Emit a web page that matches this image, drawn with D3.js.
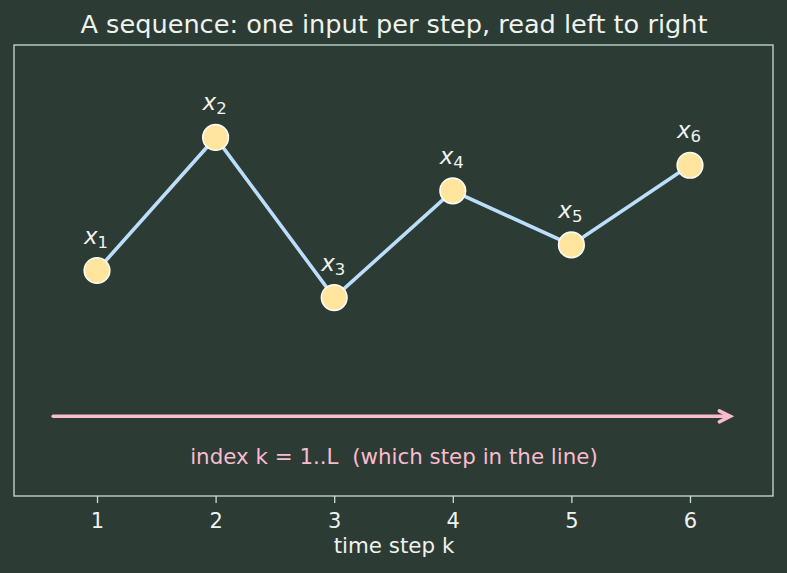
<!DOCTYPE html>
<html><head><meta charset="utf-8">
<script src="https://cdn.jsdelivr.net/npm/d3@7"></script>
<style>
html,body{margin:0;padding:0;background:#2c3b34;}
svg{display:block;font-family:"DejaVu Sans",sans-serif;}
</style></head>
<body><svg id="c" width="787" height="573"></svg>
<script>
const steps = [1, 2, 3, 4, 5, 6];
const values = [0.5, 1.385, 0.32, 1.03, 0.67, 1.2];
const labels = ["1", "2", "3", "4", "5", "6"];
const title = "A sequence: one input per step, read left to right";
const xLabel = "time step k";
const arrowText = "index k = 1..L  (which step in the line)";
const arrowRange = [0.63, 6.34];
const arrowY = -0.47;
const arrowTextY = -0.74;

const W = 787, H = 573;
const m = {l: 14, r: 14, t: 45, b: 77};
const svg = d3.select("#c");
svg.append("rect").attr("width", W).attr("height", H).attr("fill", "#2c3b34");

const x = d3.scaleLinear().domain([0.3, 6.7]).range([m.l, W - m.r]);
const y = d3.scaleLinear().domain([-1, 2]).range([H - m.b, m.t]);

// frame
svg.append("rect").attr("x", m.l).attr("y", m.t)
  .attr("width", W - m.l - m.r).attr("height", H - m.t - m.b)
  .attr("fill", "none").attr("stroke", "#c9dfd2").attr("stroke-width", 1.3);

// axis
const ax = svg.append("g").attr("transform", `translate(0,${H - m.b})`)
  .call(d3.axisBottom(x).tickValues(steps).tickFormat((d, i) => labels[i]).tickSize(7).tickPadding(10));
ax.attr("font-size", null).attr("font-family", null);
ax.select(".domain").remove();
ax.selectAll(".tick line").attr("stroke", "#c9dfd2").attr("stroke-width", 1.3);
ax.selectAll(".tick text").attr("fill", "#eef3ef").style("font-size", "21px").attr("dy", "0.71em");

svg.append("text").attr("x", 394).attr("y", 553)
  .attr("text-anchor", "middle").attr("fill", "#eef3ef").style("font-size", "21.4px").text(xLabel);

svg.append("text").attr("x", 394).attr("y", 33)
  .attr("text-anchor", "middle").attr("fill", "#eef3ef").style("font-size", "25.6px").text(title);

// arrow
const ay = y(arrowY);
const ax1 = x(arrowRange[0]), ax2 = x(arrowRange[1]);
svg.append("line").attr("x1", ax1).attr("x2", ax2 - 1).attr("y1", ay).attr("y2", ay)
  .attr("stroke", "#f8bbd0").attr("stroke-width", 3.5).attr("stroke-linecap", "round");
svg.append("path").attr("d", `M${ax2 - 11},${ay - 5.5} L${ax2},${ay} L${ax2 - 11},${ay + 5.5}`)
  .attr("fill", "none").attr("stroke", "#f8bbd0").attr("stroke-width", 3.5)
  .attr("stroke-linecap", "round").attr("stroke-linejoin", "miter");
svg.append("text").attr("x", 394).attr("y", 464)
  .attr("text-anchor", "middle").attr("fill", "#f8bbd0").style("font-size", "21.4px")
  .style("white-space", "pre").attr("xml:space", "preserve").text(arrowText);

// line
const data = steps.map((s, i) => ({s, v: values[i]}));
svg.append("path").datum(data)
  .attr("d", d3.line().x(d => x(d.s)).y(d => y(d.v)))
  .attr("fill", "none").attr("stroke", "#bbdefb").attr("stroke-width", 3.6);

svg.selectAll("circle.pt").data(data).enter().append("circle").attr("class", "pt")
  .attr("cx", d => x(d.s)).attr("cy", d => y(d.v)).attr("r", 12.8)
  .attr("fill", "#ffe59e").attr("stroke", "#fdfdf5").attr("stroke-width", 1.6);

// labels x_k
const lab = svg.selectAll("text.lab").data(data).enter().append("text").attr("class", "lab")
  .attr("x", d => x(d.s) - 1).attr("y", d => y(d.v) - 27)
  .attr("text-anchor", "middle").attr("fill", "#f2f2ee");
lab.append("tspan").style("font-size", "23px").style("font-style", "oblique").text("x");
lab.append("tspan").style("font-size", "16.5px").attr("dy", 4).text((d, i) => String(i + 1));
</script></body></html>
